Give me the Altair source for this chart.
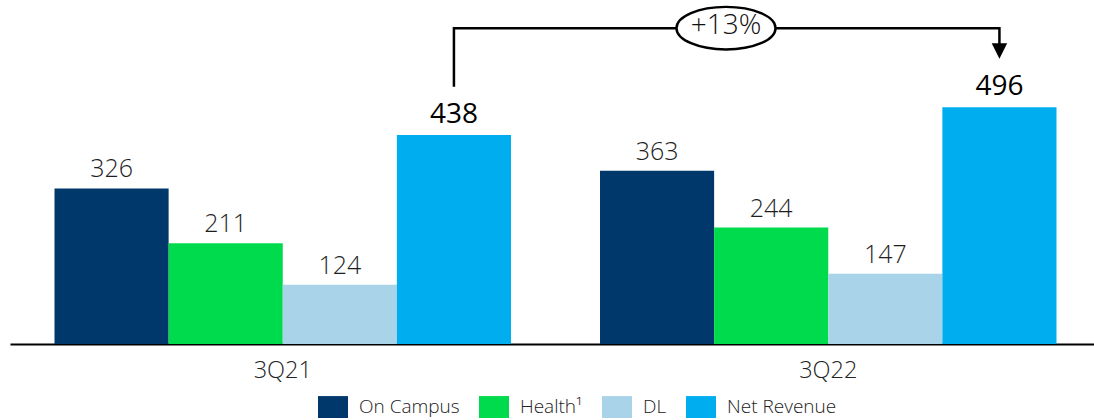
import altair as alt
import pandas as pd

# ---- data ----
quarters = ["3Q21", "3Q22"]
series = ["On Campus", "Health¹", "DL", "Net Revenue"]
values_3q21 = [326, 211, 124, 438]
values_3q22 = [363, 244, 147, 496]
colors = ["#00386B", "#00DB4D", "#A9D3E8", "#00AEEF"]
growth_label = "+13%"

# bracket annotation (in data units of the value axis)
bracket_quarters = ["3Q21", "3Q21", "3Q22", "3Q22"]
bracket_values = [539, 662, 662, 614]
arrow_value = [614]
badge_value = [662]

FONT = "Open Sans"

rows = []
for q, vals in zip(quarters, [values_3q21, values_3q22]):
    for s, v in zip(series, vals):
        rows.append({"quarter": q, "series": s, "value": v})
df = pd.DataFrame(rows)

bracket_df = pd.DataFrame({
    "quarter": bracket_quarters,
    "series": ["Net Revenue"] * len(bracket_quarters),
    "value": bracket_values,
    "step": list(range(len(bracket_quarters))),
})
arrow_df = pd.DataFrame({"quarter": ["3Q22"], "series": ["Net Revenue"], "value": arrow_value})
badge_df = pd.DataFrame({"value": badge_value, "label": [growth_label]})

x_enc = alt.X(
    "quarter:N",
    scale=alt.Scale(domain=quarters, range=[10, 1101], paddingInner=0, paddingOuter=0),
    axis=alt.Axis(
        title=None, labelAngle=0, ticks=False, domainColor="black", domainWidth=2,
        labelFontSize=23.5, labelFont=FONT, labelFontWeight=300, labelColor="#222222",
        labelPadding=14,
    ),
)
xoff_enc = alt.XOffset(
    "series:N", scale=alt.Scale(domain=series, paddingInner=0, paddingOuter=0.39)
)
y_enc = alt.Y("value:Q", scale=alt.Scale(domain=[0, 721], nice=False, zero=True), axis=None)

bars = alt.Chart(df).mark_bar().encode(
    x=x_enc,
    xOffset=xoff_enc,
    y=y_enc,
    color=alt.Color(
        "series:N",
        scale=alt.Scale(domain=series, range=colors),
        legend=alt.Legend(
            title=None, orient="none", legendX=318, legendY=392, direction="horizontal",
            symbolType="M-1,-0.73H1V0.73H-1Z", symbolSize=900, symbolStrokeWidth=0,
            symbolOpacity=1, labelFontSize=19, labelFont=FONT, labelFontWeight=300,
            labelColor="#222222", labelOffset=11, columnPadding=19, padding=0, labelLimit=0,
        ),
    ),
)

labels_small = alt.Chart(df).transform_filter(
    alt.datum.series != "Net Revenue"
).mark_text(
    baseline="alphabetic", dy=-11, fontSize=25, font=FONT, fontWeight=300, color="#1e1e1e"
).encode(x=x_enc, xOffset=xoff_enc, y=y_enc, text="value:Q")

labels_big = alt.Chart(df).transform_filter(
    alt.datum.series == "Net Revenue"
).mark_text(
    baseline="alphabetic", dy=-12, fontSize=28, font=FONT, fontWeight=400, color="#000000"
).encode(x=x_enc, xOffset=xoff_enc, y=y_enc, text="value:Q")

bracket_line = alt.Chart(bracket_df).mark_line(
    color="black", strokeWidth=2.5, strokeJoin="miter"
).encode(x=x_enc, xOffset=xoff_enc, y=y_enc, order="step:O")

arrow = alt.Chart(arrow_df).mark_point(
    shape="M-1,-1L1,-1L0,1Z", size=240, filled=True, color="black", opacity=1
).encode(x=x_enc, xOffset=xoff_enc, y=y_enc)

badge = alt.Chart(badge_df).mark_point(
    shape="M-1,0A1,0.43 0 1,0 1,0A1,0.43 0 1,0 -1,0Z",
    size=9801, filled=True, fill="white", stroke="black", strokeWidth=2.4, opacity=1,
).encode(x=alt.value(726), y=y_enc)

badge_text = alt.Chart(badge_df).mark_text(
    baseline="middle", align="center", dy=-2, fontSize=28, font=FONT, fontWeight=300,
    color="#111111",
).encode(x=alt.value(726), y=y_enc, text="label:N")

chart = alt.layer(
    bars, labels_small, labels_big, bracket_line, arrow, badge, badge_text
).properties(
    width=1094, height=344,
    autosize=alt.AutoSizeParams(type="none"),
    padding={"left": 0, "top": 0, "right": 0, "bottom": 76},
    background="white",
).configure_view(stroke=None)

chart.save("out.html", embed_options={"renderer": "svg", "actions": False})
